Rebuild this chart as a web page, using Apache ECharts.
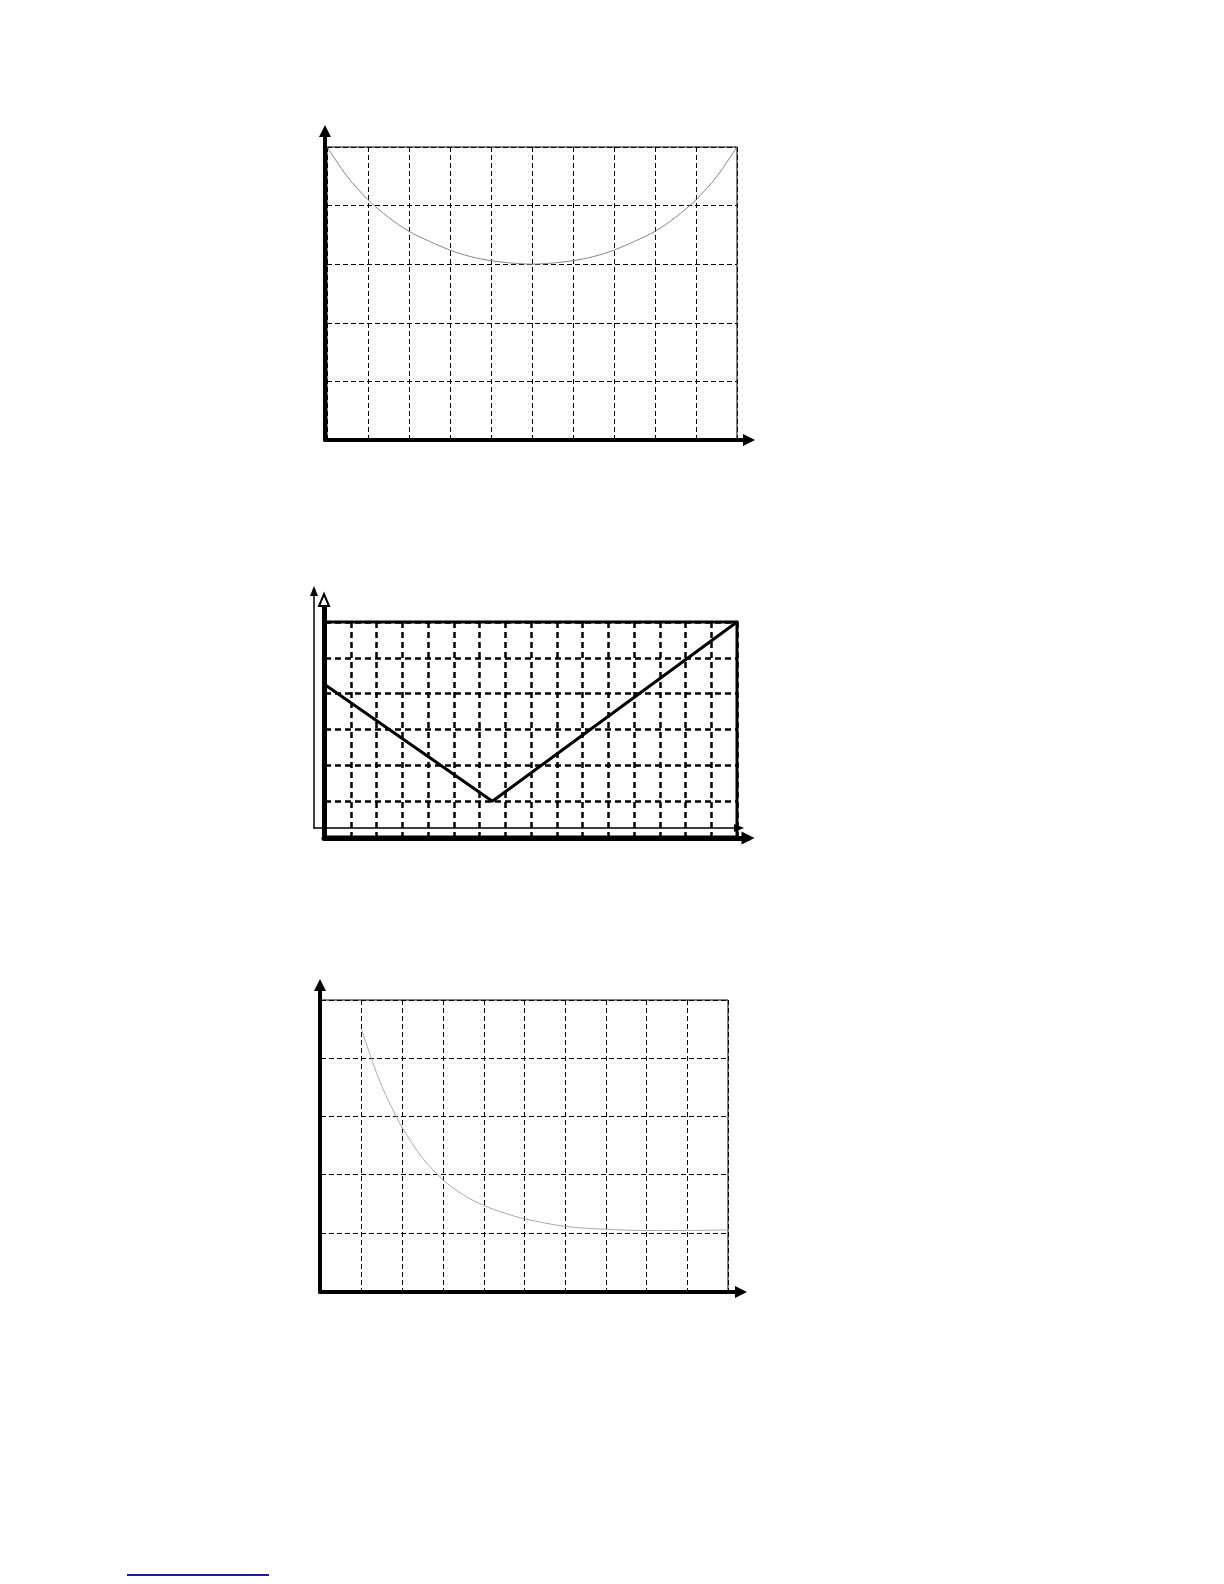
<!DOCTYPE html>
<html style="height: 100%">
<head>
    <meta charset="utf-8">
    <title>曲线图</title>
    <script src="https://cdn.jsdelivr.net/npm/echarts@6.0.0/dist/echarts.min.js"></script>
</head>
<body style="height: 100%; margin: 0; background: #fff">
<div id="container" style="width: 1224px; height: 1584px"></div>

<script type="text/javascript">
    // 图1: U形曲线 (x 0..10, y 0..5)
    var curve1X = [0, 0.5, 1, 1.5, 2, 2.5, 3, 3.5, 4, 4.5, 5, 5.5, 6, 6.5, 7, 7.5, 8, 8.5, 9, 9.5, 10];
    var curve1Y = [5, 4.49, 4.1, 3.8, 3.56, 3.39, 3.24, 3.13, 3.06, 3.02, 3.0, 3.02, 3.06, 3.13, 3.24, 3.39, 3.56, 3.8, 4.1, 4.49, 5];

    // 图2: V形折线 (x 0..16, y 0..6)
    var vLineX = [0, 6.5, 16];
    var vLineY = [4.25, 1, 6];

    // 图3: 衰减曲线 (x 0..10, y 0..5)
    var curve3X = [1, 1.25, 1.5, 1.75, 2, 2.5, 3, 3.5, 4, 4.5, 5, 6, 7, 8, 9, 10];
    var curve3Y = [4.49, 3.97, 3.51, 3.14, 2.8, 2.28, 1.91, 1.65, 1.47, 1.34, 1.24, 1.11, 1.06, 1.04, 1.04, 1.05];

    var pairs = function (xs, ys) {
        var res = [];
        for (var i = 0; i < xs.length; i++) {
            res.push([xs[i], ys[i]]);
        }
        return res;
    };

    // 带虚线网格的坐标轴
    var boxAxis = function (gridIndex, max, interval, lineWidth, dash) {
        return {
            type: 'value',
            gridIndex: gridIndex,
            min: 0,
            max: max,
            interval: interval,
            axisLine: {show: false},
            axisTick: {show: false},
            axisLabel: {show: false},
            splitLine: {
                show: true,
                lineStyle: {color: '#000', width: lineWidth, type: dash}
            }
        };
    };

    // 只画带箭头的轴线
    var arrowAxis = function (gridIndex, width, arrow, size) {
        return {
            type: 'value',
            gridIndex: gridIndex,
            min: 0,
            max: 1,
            axisLine: {
                show: true,
                symbol: ['none', arrow],
                symbolSize: size,
                lineStyle: {color: '#000', width: width}
            },
            axisTick: {show: false},
            axisLabel: {show: false},
            splitLine: {show: false}
        };
    };

    var myChart = echarts.init(document.getElementById('container'));

    var option = {
        backgroundColor: '#fff',
        animation: false,
        grid: [
            // 图1
            {left: 327, top: 147, width: 410, height: 293, show: true, borderColor: '#000', borderWidth: 1},
            {left: 325, top: 131, width: 424, height: 309},
            // 图2
            {left: 325, top: 622, width: 412, height: 215, show: true, borderColor: '#000', borderWidth: 3},
            {left: 324, top: 600, width: 424, height: 238},
            {left: 314, top: 591, width: 425, height: 237},
            // 图3
            {left: 321, top: 1000, width: 407, height: 291, show: true, borderColor: '#000', borderWidth: 1},
            {left: 320, top: 985, width: 421, height: 307}
        ],
        xAxis: [
            boxAxis(0, 10, 1, 1, [5, 3]),
            arrowAxis(1, 4, 'triangle', [12, 12]),
            boxAxis(2, 16, 1, 2.5, [6, 4]),
            arrowAxis(3, 5, 'triangle', [13, 13]),
            arrowAxis(4, 1.5, 'triangle', [8, 10]),
            boxAxis(5, 10, 1, 1, [5, 3]),
            arrowAxis(6, 4, 'triangle', [12, 12])
        ],
        yAxis: [
            boxAxis(0, 5, 1, 1, [5, 3]),
            arrowAxis(1, 4, 'triangle', [12, 12]),
            boxAxis(2, 6, 1, 2.5, [6, 4]),
            arrowAxis(3, 5, 'emptyTriangle', [10, 12]),
            arrowAxis(4, 1.5, 'triangle', [8, 10]),
            boxAxis(5, 5, 1, 1, [5, 3]),
            arrowAxis(6, 4, 'triangle', [12, 12])
        ],
        series: [
            {
                type: 'line',
                xAxisIndex: 0,
                yAxisIndex: 0,
                smooth: 0.3,
                symbol: 'none',
                lineStyle: {color: '#858585', width: 1},
                data: pairs(curve1X, curve1Y)
            },
            {
                type: 'line',
                xAxisIndex: 2,
                yAxisIndex: 2,
                symbol: 'none',
                lineStyle: {color: '#000', width: 3},
                data: pairs(vLineX, vLineY)
            },
            {
                type: 'line',
                xAxisIndex: 5,
                yAxisIndex: 5,
                smooth: 0.3,
                symbol: 'none',
                lineStyle: {color: '#aaaaaa', width: 1},
                data: pairs(curve3X, curve3Y)
            }
        ],
        graphic: [
            {
                type: 'line',
                shape: {x1: 127, y1: 1575, x2: 269, y2: 1575},
                style: {stroke: '#1c1ca0', lineWidth: 2}
            }
        ]
    };

    myChart.setOption(option);
</script>
</body>
</html>
